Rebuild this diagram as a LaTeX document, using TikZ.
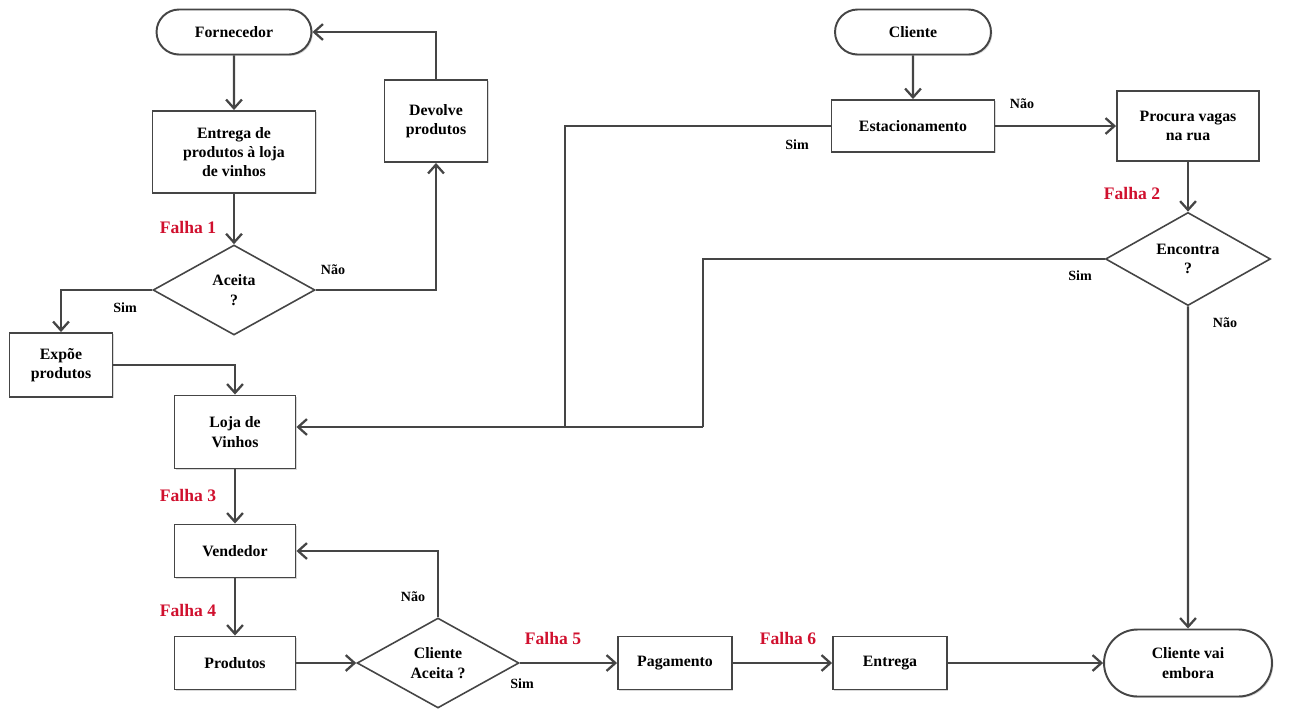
\documentclass[tikz,border=0pt]{standalone}
\usepackage{fontspec}
\setmainfont{Liberation Serif}
\usetikzlibrary{shapes.geometric,shapes.misc,arrows.meta,shadows}
\definecolor{linegray}{HTML}{454545}
\definecolor{falhared}{HTML}{D0102E}

\begin{document}
\begin{tikzpicture}[x=0.02cm, y=-0.02cm,
  every node/.style={font=\fontsize{9}{11}\selectfont\bfseries, align=center, text=black},
  box/.style={draw=linegray, line width=1.1pt, fill=white, rectangle, inner sep=2pt,
    drop shadow={shadow xshift=0.8pt, shadow yshift=-0.8pt, fill=gray!60}},
  term/.style={box, rounded rectangle},
  decide/.style={draw=linegray, line width=0.9pt, fill=white, diamond, inner sep=0pt},
  flow/.style={draw=linegray, line width=1.3pt, -{Straight Barb[length=5pt, width=9pt]}},
  link/.style={draw=linegray, line width=1.3pt},
  falha/.style={text=falhared, font=\fontsize{10}{12}\selectfont\bfseries},
  answer/.style={font=\fontsize{8}{10}\selectfont\bfseries}]
\useasboundingbox (0,0) rectangle (1292,711);

\node[term, minimum width=3.24cm, minimum height=0.9cm] (forn) at (234,32) {Fornecedor};
\node[box, minimum width=3.26cm, minimum height=1.64cm] (entr) at (234,152) {Entrega de\\produtos à loja\\de vinhos};
\node[box, minimum width=2.06cm, minimum height=1.64cm] (devo) at (436,121) {Devolve\\produtos};
\node[decide, minimum width=3.24cm, minimum height=1.8cm] (aceita) at (234,290) {Aceita\\?};
\node[box, minimum width=2.06cm, minimum height=1.28cm] (expoe) at (61,365) {Expõe\\produtos};
\node[box, minimum width=2.42cm, minimum height=1.46cm] (loja) at (235,432) {Loja de\\Vinhos};
\node[box, minimum width=2.42cm, minimum height=1.06cm] (vend) at (235,551) {Vendedor};
\node[box, minimum width=2.42cm, minimum height=1.06cm] (prod) at (235,663) {Produtos};
\node[decide, minimum width=3.24cm, minimum height=1.8cm] (cliaceita) at (438,663) {Cliente\\Aceita ?};
\node[box, minimum width=2.28cm, minimum height=1.06cm] (paga) at (675,663) {Pagamento};
\node[box, minimum width=2.28cm, minimum height=1.06cm] (entrega) at (890,663) {Entrega};
\node[term, minimum width=3.5cm, minimum height=1.34cm] (embora) at (1188,663) {Cliente vai\\embora};
\node[term, minimum width=3.26cm, minimum height=0.9cm] (cli) at (913,32) {Cliente};
\node[box, minimum width=3.26cm, minimum height=1.04cm] (estac) at (913,126) {Estacionamento};
\node[box, minimum width=2.84cm, minimum height=1.4cm] (procura) at (1188,126) {Procura vagas\\na rua};
\node[decide, minimum width=3.3cm, minimum height=1.84cm] (encontra) at (1188,259) {Encontra\\?};

\node[falha] (f1) at (188,227) {Falha 1};
\node[falha] (f2) at (1132,193) {Falha 2};
\node[falha] (f3) at (188,495) {Falha 3};
\node[falha] (f4) at (188,610) {Falha 4};
\node[falha] (f5) at (553,638) {Falha 5};
\node[falha] (f6) at (788,638) {Falha 6};

\node[answer] (nao1) at (333,270) {Não};
\node[answer] (sim1) at (125,308) {Sim};
\node[answer] (nao2) at (1022,104) {Não};
\node[answer] (sim2) at (797,145) {Sim};
\node[answer] (sim3) at (1080,276) {Sim};
\node[answer] (nao3) at (1225,323) {Não};
\node[answer] (nao4) at (413,597) {Não};
\node[answer] (sim4) at (522,684) {Sim};

\coordinate (jn1) at (565,427);
\coordinate (jn2) at (703,427);

\draw[flow] (forn) -- (entr);
\draw[flow] (entr) -- (aceita);
\draw[flow] (aceita.east) -| (devo.south);
\draw[flow] (devo.north) |- (forn.east);
\draw[flow] (aceita.west) -| (expoe.north);
\draw[flow] (expoe.east) -| (loja.north);
\draw[flow] (loja) -- (vend);
\draw[flow] (vend) -- (prod);
\draw[flow] (prod) -- (cliaceita);
\draw[flow] (cliaceita.north) |- (vend.east);
\draw[flow] (cliaceita) -- (paga);
\draw[flow] (paga) -- (entrega);
\draw[flow] (entrega) -- (embora);
\draw[flow] (cli) -- (estac);
\draw[flow] (estac) -- (procura);
\draw[flow] (procura) -- (encontra);
\draw[flow] (encontra) -- (embora);
\draw[link] (estac.west) -| (jn1);
\draw[link] (encontra.west) -| (jn2);
\draw[flow] (jn2) -- (loja.east |- jn2);
\end{tikzpicture}
\end{document}
